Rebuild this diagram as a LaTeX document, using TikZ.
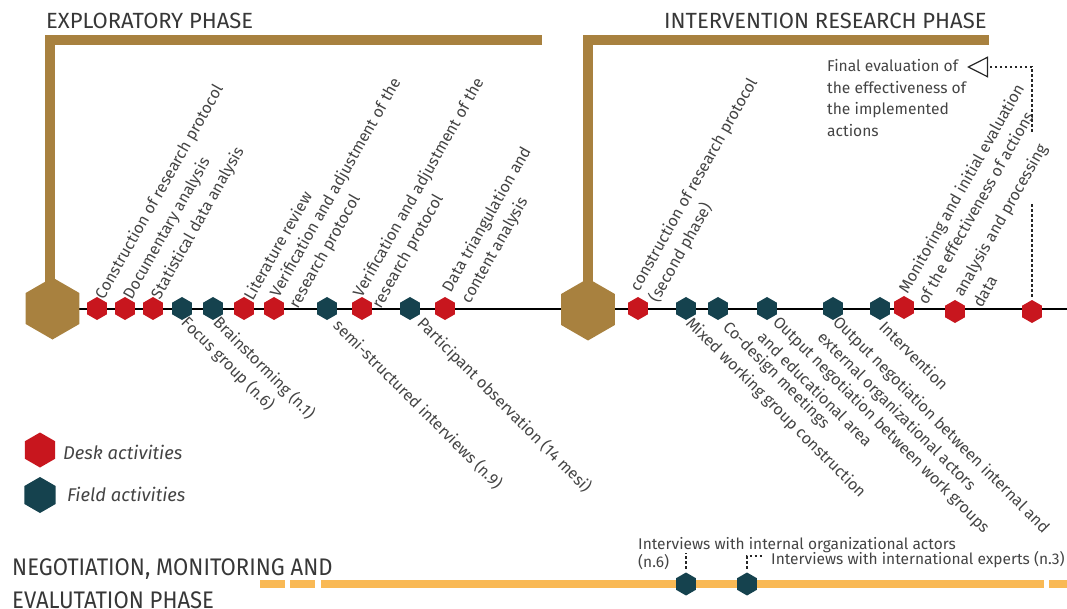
\documentclass[tikz,border=0pt]{standalone}
\usepackage{fontspec}
\setmainfont{Fira Sans}
\newfontfamily\condfont{Fira Sans}[FakeStretch=0.92]
\usetikzlibrary{shapes.geometric,arrows.meta,backgrounds}
\definecolor{gold}{RGB}{168,129,63}
\definecolor{deskred}{RGB}{200,22,30}
\definecolor{fieldteal}{RGB}{21,66,78}
\definecolor{orangebar}{RGB}{249,185,85}
\definecolor{ink}{RGB}{68,68,68}
\definecolor{titleink}{RGB}{55,55,55}
\tikzset{
  hexa/.style={regular polygon, regular polygon sides=6, shape border rotate=30,
    inner sep=0pt, outer sep=0pt, minimum size=23pt, draw=none},
  desk/.style={hexa, fill=deskred},
  field/.style={hexa, fill=fieldteal},
  hub/.style={hexa, fill=gold, minimum size=62pt},
  uplab/.style={rotate=60.5, anchor=south west, align=left, inner sep=0pt,
    text=ink, font=\fontsize{16}{22}\selectfont},
  lowlab/.style={rotate=-45, anchor=north west, align=left, inner sep=0pt,
    text=ink, font=\fontsize{16}{22}\selectfont},
  phasetitle/.style={anchor=base west, inner sep=0pt, text=titleink,
    font=\fontsize{22}{26}\selectfont},
  timeline/.style={line width=2pt, black},
  bracket/.style={line width=10pt, gold, line join=miter},
  obar/.style={line width=7.5pt, orangebar},
  dots/.style={line width=2.5pt, dash pattern=on 2.5pt off 2.5pt, black!85},
  ivtext/.style={inner sep=0pt, text=ink, font=\fontsize{15.5}{18.5}\selectfont},
}
\begin{document}
\begin{tikzpicture}[x=1pt,y=-1pt]
\useasboundingbox (0,0) rectangle (1067,609);

% phase hubs
\node[hub] (hub1) at (52.5,308.5) {};
\node[hub] (hub2) at (588,309.5) {};

% exploratory phase activities
\node[desk]  (a1)  at (97,308.5) {};
\node[desk]  (a2)  at (125,308.5) {};
\node[desk]  (a3)  at (153,308.5) {};
\node[field] (a4)  at (182,308.5) {};
\node[field] (a5)  at (213,308.5) {};
\node[desk]  (a6)  at (244,308.5) {};
\node[desk]  (a7)  at (274,308.5) {};
\node[field] (a8)  at (327,308.5) {};
\node[desk]  (a9)  at (362,308.5) {};
\node[field] (a10) at (410,308.5) {};
\node[desk]  (a11) at (445,308.5) {};

% intervention research phase activities
\node[desk]  (b1)  at (638,308.5) {};
\node[field] (b2)  at (686,308.5) {};
\node[field] (b3)  at (718,308.5) {};
\node[field] (b4)  at (767,308.5) {};
\node[field] (b5)  at (833,308.5) {};
\node[field] (b6)  at (880,308.5) {};
\node[desk]  (b7)  at (904,307.5) {};
\node[desk]  (b8)  at (955,311.5) {};
\node[desk]  (b9)  at (1032,311.5) {};

\coordinate (lineEnd) at (1067,308.5);
\coordinate (bar1Foot) at (49.5,308.5);
\coordinate (bar1End) at (542,40.5);
\coordinate (bar2End) at (989,40.5);

\begin{scope}[on background layer]
  \draw[timeline] (hub1.center) -- (lineEnd);
  \draw[bracket] (bar1Foot) |- (bar1End);
  \draw[bracket] (hub2.center) |- (bar2End);
\end{scope}

% phase titles
\node[phasetitle] (t1) at (46,28.5) {EXPLORATORY PHASE};
\node[phasetitle] (t2) at (664,28.5) {INTERVENTION RESEARCH PHASE};

% labels above the timeline
\node[uplab] (u1)  at (107,302) {Construction of research protocol};
\node[uplab] (u2)  at (135,302) {Documentary analysis};
\node[uplab] (u3)  at (163,302) {Statistical data analysis};
\node[uplab] (u4)  at (253,302) {Literature review};
\node[uplab] (u5)  at (301,311) {Verification and adjustment of the\\research protocol};
\node[uplab] (u6)  at (384,311) {Verification and adjustment of the\\research protocol};
\node[uplab] (u7)  at (473,306) {Data triangulation and\\content analysis};
\node[uplab] (u8)  at (661,305) {construction of research protocol\\(second phase)};
\node[uplab] (u9)  at (927,306) {Monitoring and initial evaluation\\of the effectiveness of actions};
\node[uplab] (u10) at (982,309) {analysis and processing\\data};

% labels below the timeline
\node[lowlab] (l1) at (190,314) {Focus group (n.6)};
\node[lowlab] (l2) at (222,314) {Brainstorming (n.1)};
\node[lowlab] (l3) at (342,317) {semi-structured interviews (n.9)};
\node[lowlab] (l4) at (426,315) {Participant observation (14 mesi)};
\node[lowlab] (l5) at (694,315) {Mixed working group construction};
\node[lowlab] (l6) at (731,319) {Co-design meetings};
\node[lowlab] (l7) at (781,314) {Output negotiation between work groups\\and educational area};
\node[lowlab] (l8) at (841,314) {Output negotiation between internal and\\external organizational actors};
\node[lowlab] (l9) at (887,319) {Intervention};

% final evaluation note and its connector
\node[anchor=north west, align=left, inner sep=0pt, text=ink,
      font=\fontsize{15.6}{21.7}\selectfont] (fin) at (827,59)
  {Final evaluation of\\the effectiveness of\\the implemented\\actions};
\coordinate (gapLow) at (1032,203);
\coordinate (gapHigh) at (1032,132);
\coordinate (tipPt) at (967,67);
\draw[dots, shorten <=3pt] (b9.north) -- (gapLow);
\draw[dots, -{Triangle[open, length=21pt, width=21pt, line width=1.2pt, fill=white]}]
  (gapHigh) |- (tipPt);

% legend
\node[desk, minimum size=35pt] (kd) at (40,450) {};
\node[field, minimum size=36pt] (kf) at (40,495) {};
\node[anchor=base west, inner sep=0pt, text=ink,
      font=\fontsize{18.4}{20}\selectfont\itshape] (kdt) at (63,459) {Desk activities};
\node[anchor=base west, inner sep=0pt, text=ink,
      font=\fontsize{18.4}{20}\selectfont\itshape] (kft) at (67,501) {Field activities};

% negotiation, monitoring and evaluation phase
\node[anchor=north west, align=left, inner sep=0pt, text=titleink,
      font=\condfont\fontsize{24}{33}\selectfont] (t3) at (12,558)
  {NEGOTIATION, MONITORING AND\\EVALUTATION PHASE};
\draw[obar] (260,584) -- (285,584);
\draw[obar] (290,584) -- (315,584);
\draw[obar] (321,584) -- (1044,584);
\draw[obar] (1049,584) -- (1067,584);

\node[field] (iv1) at (686,584) {};
\node[field] (iv2) at (747,584) {};
\node[ivtext, anchor=north west, align=left] (ivA) at (638,537)
  {Interviews with internal organizational actors\\(n.6)};
\node[ivtext, anchor=base west] (ivB) at (771,564)
  {Interviews with international experts (n.3)};
\coordinate (ivBend) at (763,556);
\draw[dots, shorten <=4pt] (iv1.north) -- ++(0,-20);
\draw[dots, shorten <=4pt] (iv2.north) |- (ivBend);
\end{tikzpicture}
\end{document}
